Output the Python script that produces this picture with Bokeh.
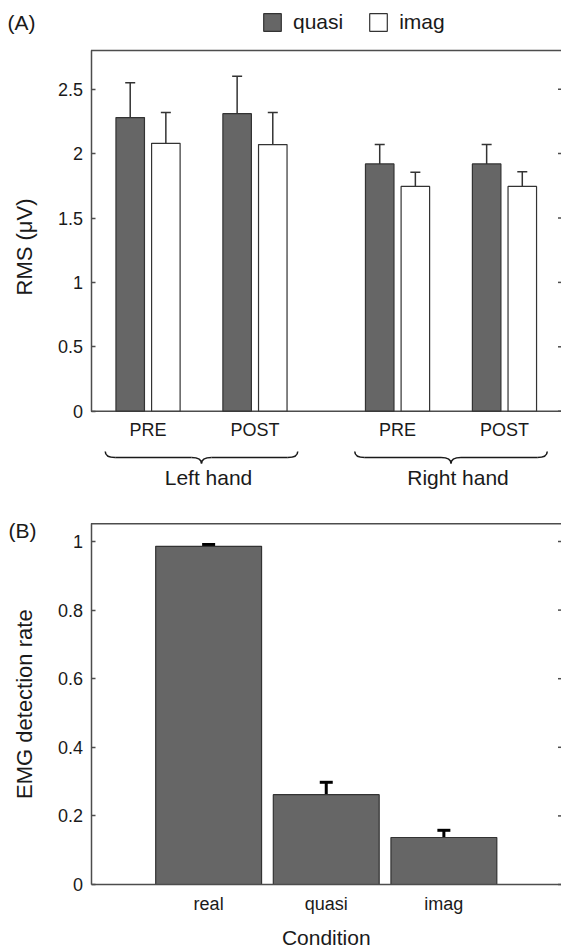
import math
from bokeh.plotting import figure
from bokeh.layouts import column
from bokeh.models import (Range1d, FixedTicker, PrintfTickFormatter, Whisker, TeeHead,
                          ColumnDataSource, Legend, LegendItem, Label)
from bokeh.core.properties import value
from bokeh.embed import file_html
from bokeh.resources import INLINE

# ---------------- data ----------------
hands = ["Left hand", "Right hand"]
sessions = ["PRE", "POST", "PRE", "POST"]
hand_of_bar = [0, 0, 1, 1]
session_of_bar = [0, 1, 0, 1]
quasi_rms = [2.28, 2.31, 1.92, 1.92]
quasi_err = [0.27, 0.29, 0.15, 0.15]
imag_rms = [2.08, 2.07, 1.745, 1.745]
imag_err = [0.24, 0.25, 0.11, 0.115]
rms_ticks = [0, 0.5, 1, 1.5, 2, 2.5]

conditions = ["real", "quasi", "imag"]
detection_rate = [0.986, 0.262, 0.137]
detection_err = [0.005, 0.036, 0.021]
rate_ticks = [0, 0.2, 0.4, 0.6, 0.8, 1]

# ---------------- style ----------------
FONT = "Liberation Sans"
TXT = "#1a1a1a"
SPINE = "#4d4d4d"
DARK = "#666666"
EDGE = "#333333"
W = 561
SPINE_PX = 90.5        # pixel column of the left spine


def style_left(ax):
    ax.axis_line_color = SPINE
    ax.axis_line_width = 1.5
    ax.major_tick_in = 4
    ax.major_tick_out = 0
    ax.major_tick_line_color = SPINE
    ax.major_tick_line_width = 1.5
    ax.minor_tick_line_color = None
    ax.major_label_text_font = FONT
    ax.major_label_text_font_size = "18px"
    ax.major_label_text_color = TXT
    ax.major_label_standoff = 8
    ax.formatter = PrintfTickFormatter(format="%g")


def bare(p):
    p.grid.visible = False
    p.outline_line_color = None
    p.min_border_left = p.min_border_right = p.min_border_top = p.min_border_bottom = 0


# ================= Panel A =================
HA = 495
A_PPU = 128.8          # pixels per RMS unit
A_ZERO_PX = 410.7      # pixel row of RMS = 0
A_TOP = 2.8
A_XPPU = (W - SPINE_PX) / 13.2
xa_left, xa_end = -0.6, 12.6
xa_start = xa_left - SPINE_PX / A_XPPU
ya_start = -(HA - A_ZERO_PX) / A_PPU
ya_end = A_ZERO_PX / A_PPU

pA = figure(width=W, height=HA, x_range=Range1d(xa_start, xa_end), y_range=Range1d(ya_start, ya_end),
            output_backend="svg", toolbar_location=None, x_axis_location=None)
bare(pA)
ya = pA.yaxis[0]
style_left(ya)
ya.ticker = FixedTicker(ticks=rms_ticks)
ya.bounds = (0, A_TOP)
ya.fixed_location = xa_left

pA.segment(x0=[xa_left, xa_left], x1=[xa_end, xa_end], y0=[0, A_TOP], y1=[0, A_TOP],
           line_color=SPINE, line_width=1.5)
pA.scatter(x=[xa_end] * len(rms_ticks), y=rms_ticks, marker="dash", size=7,
           line_color=SPINE, line_width=1.5)

xpos = [1 + 3 * s + 7 * h for s, h in zip(session_of_bar, hand_of_bar)]
xq = [x - 0.5 for x in xpos]
xi = [x + 0.5 for x in xpos]

rq = pA.vbar(x=xq, top=quasi_rms, bottom=0, width=0.8, fill_color=DARK, line_color=EDGE, line_width=1.2)
ri = pA.vbar(x=xi, top=imag_rms, bottom=0, width=0.8, fill_color="white", line_color=EDGE, line_width=1.2)

for xs, m, e in ((xq, quasi_rms, quasi_err), (xi, imag_rms, imag_err)):
    src = ColumnDataSource(dict(x=xs, lower=m, upper=[a + b for a, b in zip(m, e)]))
    pA.add_layout(Whisker(base="x", lower="lower", upper="upper", source=src, dimension="height",
                          line_color=EDGE, line_width=1.5, lower_head=None,
                          upper_head=TeeHead(size=10, line_color=EDGE, line_width=1.5)))

pA.text(x=xpos, y=[0] * len(xpos), text=sessions, y_offset=19, text_align="center",
        text_baseline="middle", text_font=value(FONT), text_font_size="18px", text_color=TXT)

# braces under each hand group
px = 1.0 / A_PPU
y_end_b = -(451 - A_ZERO_PX) * px
y_mid_b = -(457 - A_ZERO_PX) * px
y_tip_b = -(463 - A_ZERO_PX) * px
r = 0.28
q = dict(x0=[], y0=[], x1=[], y1=[], cx=[], cy=[])
seg = dict(x0=[], y0=[], x1=[], y1=[])
centers = []
for h in range(len(hands)):
    bx = [x for x, hh in zip(xpos, hand_of_bar) if hh == h]
    left = min(bx) - 0.5 - 0.4 - 0.3
    right = max(bx) + 0.5 + 0.4 + 0.3
    c = (left + right) / 2
    centers.append(c)
    for (a0, b0, a1, b1, ca, cb) in (
        (left, y_end_b, left + r, y_mid_b, left, y_mid_b),
        (c - r, y_mid_b, c, y_tip_b, c, y_mid_b),
        (c + r, y_mid_b, c, y_tip_b, c, y_mid_b),
        (right, y_end_b, right - r, y_mid_b, right, y_mid_b),
    ):
        q["x0"].append(a0); q["y0"].append(b0); q["x1"].append(a1)
        q["y1"].append(b1); q["cx"].append(ca); q["cy"].append(cb)
    seg["x0"] += [left + r, c + r]
    seg["x1"] += [c - r, right - r]
    seg["y0"] += [y_mid_b, y_mid_b]
    seg["y1"] += [y_mid_b, y_mid_b]
pA.quadratic(x0="x0", y0="y0", x1="x1", y1="y1", cx="cx", cy="cy", source=ColumnDataSource(q),
             line_color=TXT, line_width=1.5)
pA.segment(x0="x0", y0="y0", x1="x1", y1="y1", source=ColumnDataSource(seg),
           line_color=TXT, line_width=1.5)
pA.text(x=centers, y=[0] * len(centers), text=hands, y_offset=66, x_offset=7, text_align="center",
        text_baseline="middle", text_font=value(FONT), text_font_size="21px", text_color=TXT)

legA = Legend(items=[LegendItem(label="quasi", renderers=[rq]), LegendItem(label="imag", renderers=[ri])],
              orientation="horizontal", location=(261, 461), glyph_width=22, glyph_height=22,
              label_text_font=FONT, label_text_font_size="21px", label_text_color=TXT,
              label_standoff=10, spacing=24, padding=0, margin=0,
              border_line_color=None, background_fill_alpha=0)
pA.add_layout(legA)
pA.add_layout(Label(x=xa_start + 24 / A_XPPU, y=(A_ZERO_PX - 246.5) / A_PPU, text="RMS (μV)",
                    angle=math.pi / 2, text_align="center", text_baseline="middle",
                    text_font=FONT, text_font_size="22px", text_color=TXT))
pA.add_layout(Label(x=7, y=HA - 22, x_units="screen", y_units="screen", text="(A)",
                    text_font=FONT, text_font_size="21px", text_color=TXT, text_baseline="middle"))

# ================= Panel B =================
HB = 947 - HA
B_PPU = 343.0
B_ZERO_PX = 884 - HA
B_TOP = 1.0516
B_XPPU = (W - SPINE_PX) / 4.0
xb_start, xb_end = -SPINE_PX / B_XPPU, 4.0
yb_start = -(HB - B_ZERO_PX) / B_PPU
yb_end = B_ZERO_PX / B_PPU

pB = figure(width=W, height=HB, x_range=Range1d(xb_start, xb_end), y_range=Range1d(yb_start, yb_end),
            output_backend="svg", toolbar_location=None)
bare(pB)
yb = pB.yaxis[0]
style_left(yb)
yb.ticker = FixedTicker(ticks=rate_ticks)
yb.bounds = (0, B_TOP)
yb.fixed_location = 0

xb = pB.xaxis[0]
xb.fixed_location = 0
xb.bounds = (0, xb_end)
xb.ticker = FixedTicker(ticks=list(range(1, len(conditions) + 1)))
xb.major_label_overrides = {i + 1: c for i, c in enumerate(conditions)}
xb.axis_line_color = SPINE
xb.axis_line_width = 1.5
xb.major_tick_line_color = None
xb.minor_tick_line_color = None
xb.major_tick_in = 0
xb.major_tick_out = 0
xb.major_label_text_font = FONT
xb.major_label_text_font_size = "18px"
xb.major_label_text_color = TXT
xb.major_label_standoff = 9

pB.segment(x0=[0], x1=[xb_end], y0=[B_TOP], y1=[B_TOP], line_color=SPINE, line_width=1.5)
pB.scatter(x=[xb_end] * len(rate_ticks), y=rate_ticks, marker="dash", size=7, line_color=SPINE, line_width=1.5)

xcond = list(range(1, len(conditions) + 1))
pB.vbar(x=xcond, top=detection_rate, bottom=0, width=0.9, fill_color=DARK, line_color=EDGE, line_width=1.2)
srcB = ColumnDataSource(dict(x=xcond, lower=detection_rate,
                             upper=[a + b for a, b in zip(detection_rate, detection_err)]))
pB.add_layout(Whisker(base="x", lower="lower", upper="upper", source=srcB, dimension="height",
                      line_color="black", line_width=3, lower_head=None,
                      upper_head=TeeHead(size=13, line_color="black", line_width=3)))

pB.add_layout(Label(x=xb_start + 24 / B_XPPU, y=B_TOP / 2, text="EMG detection rate", angle=math.pi / 2,
                    text_align="center", text_baseline="middle",
                    text_font=FONT, text_font_size="22px", text_color=TXT))
pB.add_layout(Label(x=xb_end / 2, y=-(936.5 - 884) / B_PPU, text="Condition",
                    text_align="center", text_baseline="middle",
                    text_font=FONT, text_font_size="21px", text_color=TXT))
pB.add_layout(Label(x=8, y=HB - 35, x_units="screen", y_units="screen", text="(B)",
                    text_font=FONT, text_font_size="21px", text_color=TXT, text_baseline="middle"))

layout = column(pA, pB, spacing=0)
open("out.html", "w").write(file_html(layout, INLINE))
